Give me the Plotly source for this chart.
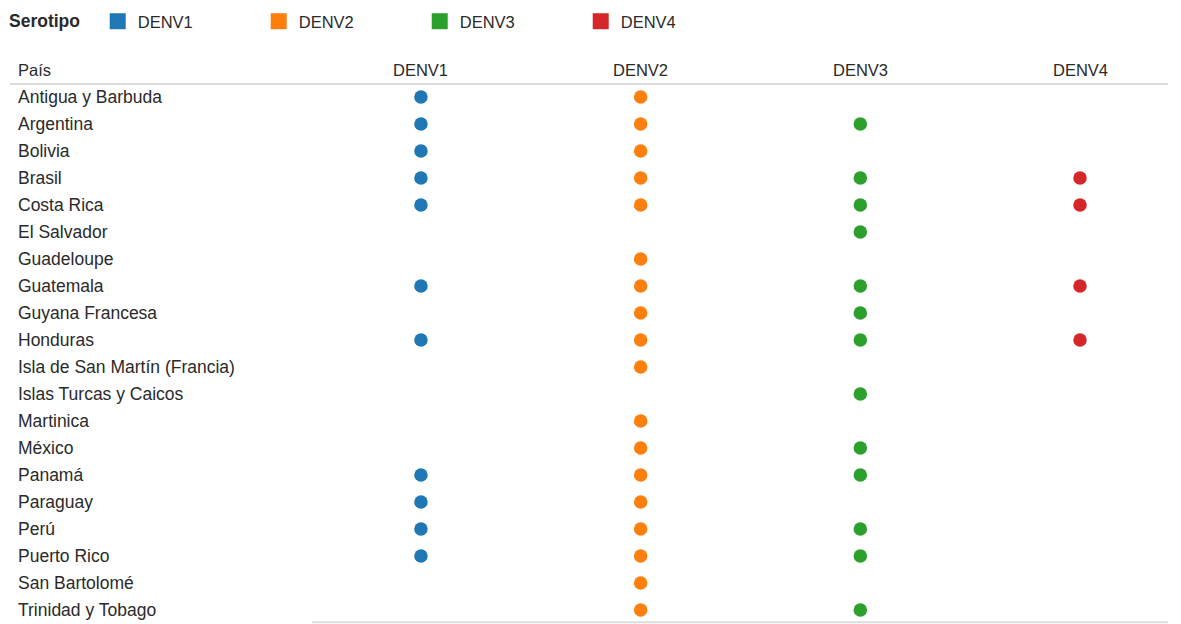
import plotly.graph_objects as go

countries = [
    "Antigua y Barbuda", "Argentina", "Bolivia", "Brasil", "Costa Rica",
    "El Salvador", "Guadeloupe", "Guatemala", "Guyana Francesa", "Honduras",
    "Isla de San Martín (Francia)", "Islas Turcas y Caicos", "Martinica",
    "México", "Panamá", "Paraguay", "Perú", "Puerto Rico", "San Bartolomé",
    "Trinidad y Tobago",
]
serotypes = ["DENV1", "DENV2", "DENV3", "DENV4"]
colors = ["#1f77b4", "#ff7f0e", "#2ca02c", "#d62728"]

denv1 = ["Antigua y Barbuda", "Argentina", "Bolivia", "Brasil", "Costa Rica",
         "Guatemala", "Honduras", "Panamá", "Paraguay", "Perú", "Puerto Rico"]
denv2 = ["Antigua y Barbuda", "Argentina", "Bolivia", "Brasil", "Costa Rica",
         "Guadeloupe", "Guatemala", "Guyana Francesa", "Honduras",
         "Isla de San Martín (Francia)", "Martinica", "México", "Panamá",
         "Paraguay", "Perú", "Puerto Rico", "San Bartolomé", "Trinidad y Tobago"]
denv3 = ["Argentina", "Brasil", "Costa Rica", "El Salvador", "Guatemala",
         "Guyana Francesa", "Honduras", "Islas Turcas y Caicos", "México",
         "Panamá", "Perú", "Puerto Rico", "Trinidad y Tobago"]
denv4 = ["Brasil", "Costa Rica", "Guatemala", "Honduras"]
presence = [denv1, denv2, denv3, denv4]

FONT = "Arial, Liberation Sans, sans-serif"
TXT = "#2a2a2a"
W, H = 1181, 624
fig = go.Figure()

for s, c, lst in zip(serotypes, colors, presence):
    fig.add_trace(go.Scatter(
        x=[s] * len(lst), y=lst, mode="markers",
        marker=dict(color=c, size=13.5, line=dict(width=0)),
        showlegend=False, hoverinfo="x+y",
    ))
    fig.add_trace(go.Scatter(
        x=[None], y=[None], mode="markers", name=s,
        marker=dict(color=c, size=18, symbol="square", line=dict(width=0)),
        showlegend=True,
    ))

# column header labels
for s in serotypes:
    fig.add_annotation(x=s, y=-1, xref="x", yref="y", text=s, showarrow=False,
                       font=dict(family=FONT, size=16.5, color=TXT),
                       xanchor="center", yanchor="middle")
fig.add_annotation(x=16 / W, y=-1, xref="paper", yref="y", text="País",
                   showarrow=False, font=dict(family=FONT, size=16.5, color=TXT),
                   xanchor="left", yanchor="middle")
for i, cname in enumerate(countries):
    fig.add_annotation(x=16 / W, y=i, xref="paper", yref="y", text=cname,
                       showarrow=False, font=dict(family=FONT, size=17.5, color=TXT),
                       xanchor="left", yanchor="middle")

fig.add_shape(type="line", xref="paper", yref="y", x0=10 / W, x1=1168 / W,
              y0=-0.48, y1=-0.48, line=dict(color="#dcdcdc", width=2))
fig.add_shape(type="line", xref="paper", yref="y", x0=312 / W, x1=1168 / W,
              y0=19.45, y1=19.45, line=dict(color="#dcdcdc", width=2))

# pixel-calibrated ranges: columns at 421,641,860,1080 ; rows at 97 + 27*i
xspan = 219.7
fig.update_xaxes(type="category", categoryarray=serotypes,
                 range=[-421 / xspan, 3 + (W - 1080) / xspan],
                 visible=False, fixedrange=True)
fig.update_yaxes(type="category", categoryarray=countries,
                 range=[(H - 97) / 27, -97 / 27],
                 visible=False, fixedrange=True)

fig.update_layout(
    width=W, height=H, margin=dict(l=0, r=0, t=0, b=0),
    plot_bgcolor="white", paper_bgcolor="white",
    font=dict(family=FONT, size=16, color=TXT),
    legend=dict(
        orientation="h", x=7 / W, y=1 - 4 / H, xanchor="left", yanchor="top",
        title=dict(text="<b>Serotipo</b>&nbsp;&nbsp;",
                   font=dict(family=FONT, size=17.5, color=TXT)),
        entrywidth=116, entrywidthmode="pixels",
        font=dict(family=FONT, size=16.5, color=TXT),
        itemsizing="trace",
    ),
)

fig.write_html("out.html", config={"displayModeBar": False},
               post_script="document.body.style.margin='0';")
